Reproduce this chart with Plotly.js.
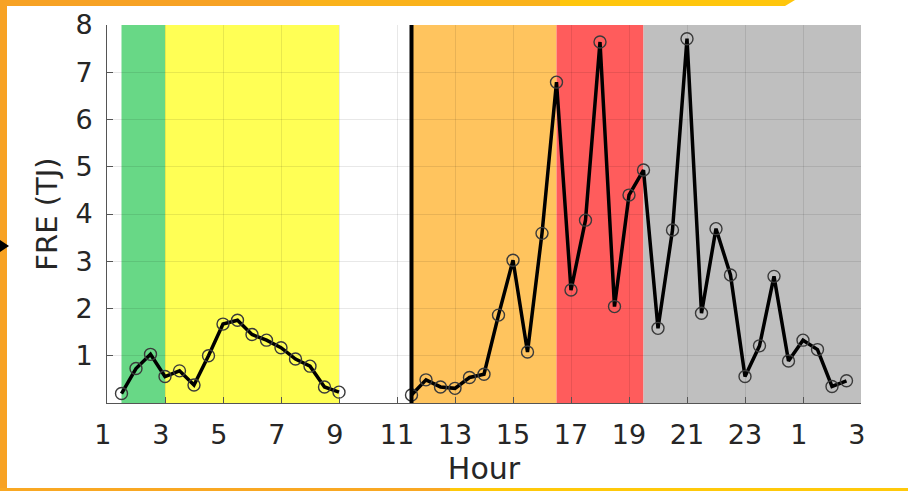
<!DOCTYPE html>
<html>
<head>
<meta charset="utf-8">
<script src="https://cdn.plot.ly/plotly-3.0.1.min.js"></script>
<style>
  html, body { margin: 0; padding: 0; background: #ffffff; }
  #chart { width: 908px; height: 491px; }
</style>
</head>
<body>
<div id="chart"></div>
<script>
// ---- Data ----
const hoursA = [1.5, 2, 2.5, 3, 3.5, 4, 4.5, 5, 5.5, 6, 6.5, 7, 7.5, 8, 8.5, 9];
const freA   = [0.20, 0.73, 1.03, 0.56, 0.68, 0.38, 1.00, 1.67, 1.75, 1.45, 1.33, 1.17, 0.93, 0.78, 0.34, 0.23];

const hoursB = [11.5, 12, 12.5, 13, 13.5, 14, 14.5, 15, 15.5, 16, 16.5, 17, 17.5, 18, 18.5, 19, 19.5,
                20, 20.5, 21, 21.5, 22, 22.5, 23, 23.5, 24, 24.5, 25, 25.5, 26, 26.5];
const freB   = [0.17, 0.49, 0.34, 0.31, 0.54, 0.61, 1.86, 3.02, 1.08, 3.59, 6.79, 2.39, 3.87, 7.64, 2.04, 4.40, 4.93,
                1.58, 3.66, 7.71, 1.90, 3.69, 2.71, 0.56, 1.21, 2.68, 0.89, 1.33, 1.13, 0.35, 0.47];

const bandStart = [1.5, 3, 11.5, 16.5, 19.5];
const bandEnd   = [3, 9, 16.5, 19.5, 27];
const bandColor = ['rgb(104,216,134)', 'rgb(255,255,85)', 'rgb(255,196,94)', 'rgb(255,92,92)', 'rgb(191,191,191)'];

const eventHour = 11.5;

const xTickVals = [1, 3, 5, 7, 9, 11, 13, 15, 17, 19, 21, 23, 25, 27];
const xTickText = ['1', '3', '5', '7', '9', '11', '13', '15', '17', '19', '21', '23', '1', '3'];
const yTickVals = [1, 2, 3, 4, 5, 6, 7, 8];

// ---- Layout geometry (pixels) ----
const W = 908, H = 491;
const L = 107, R = 861, T = 25, B = 403;
const px = v => (v - L) / (R - L);
const py = v => (B - v) / (B - T);

const textColor = '#262626';
const font = { family: 'DejaVu Sans, sans-serif', color: textColor };

const shapes = [];
for (let i = 0; i < bandStart.length; i++) {
  shapes.push({
    type: 'rect', layer: 'below', xref: 'x', yref: 'y',
    x0: bandStart[i], x1: bandEnd[i], y0: 0, y1: 8,
    fillcolor: bandColor[i], line: { width: 0 }
  });
}
shapes.push({
  type: 'line', layer: 'above', xref: 'x', yref: 'y',
  x0: eventHour, x1: eventHour, y0: 0, y1: 8,
  line: { color: '#000000', width: 4 }
});

// decorative frame
const frame = [
  { x0: 0, x1: 7, y0: 0, y1: 491, c: '#F7A224' },
  { x0: 0, x1: 300, y0: 0, y1: 6, c: '#F7A224' },
  { x0: 300, x1: 560, y0: 0, y1: 6, c: '#FAB21A' },
  { x0: 560, x1: 785, y0: 0, y1: 6, c: '#FFC60C' },
  { x0: 0, x1: 450, y0: 488, y1: 491, c: '#F9A823' },
  { x0: 450, x1: 908, y0: 488, y1: 491, c: '#FFC90A' }
];
frame.forEach(f => shapes.push({
  type: 'rect', layer: 'above', xref: 'paper', yref: 'paper',
  x0: px(f.x0), x1: px(f.x1), y0: py(f.y1), y1: py(f.y0),
  fillcolor: f.c, line: { width: 0 }
}));
shapes.push({
  type: 'path', layer: 'above', xref: 'paper', yref: 'paper',
  path: `M ${px(785)} ${py(0)} L ${px(795)} ${py(0)} L ${px(785)} ${py(6)} Z`,
  fillcolor: '#FFC60C', line: { width: 0 }
});
shapes.push({
  type: 'path', layer: 'above', xref: 'paper', yref: 'paper',
  path: `M ${px(0)} ${py(240)} L ${px(9)} ${py(246)} L ${px(0)} ${py(252)} Z`,
  fillcolor: '#000000', line: { width: 0 }
});

const lineStyle = { color: '#000000', width: 3.5 };
const markerStyle = { symbol: 'circle-open', size: 12, color: '#3a3a3a', line: { width: 1.4 } };

const traces = [
  { x: hoursA, y: freA, type: 'scatter', mode: 'lines+markers', line: lineStyle, marker: markerStyle, hoverinfo: 'x+y' },
  { x: hoursB, y: freB, type: 'scatter', mode: 'lines+markers', line: lineStyle, marker: markerStyle, hoverinfo: 'x+y' }
];

const layout = {
  width: W, height: H,
  margin: { l: L, r: W - R, t: T, b: H - B, pad: 0 },
  paper_bgcolor: '#ffffff',
  plot_bgcolor: '#ffffff',
  showlegend: false,
  font: font,
  xaxis: {
    range: [1, 27],
    tickvals: xTickVals,
    ticktext: xTickText.map(t => t.length === 1 ? t + '\u00A0' : t),
    tickfont: { family: font.family, size: 27, color: textColor },
    ticks: 'inside', ticklen: 6, tickcolor: '#555555', tickwidth: 1,
    showline: true, linecolor: '#555555', linewidth: 1,
    showgrid: true, gridcolor: 'rgba(0,0,0,0.09)', gridwidth: 1,
    zeroline: false,
    ticklabelstandoff: 8,
    title: { text: 'Hour', font: { family: font.family, size: 30, color: textColor }, standoff: 8 }
  },
  yaxis: {
    range: [0, 8],
    tickvals: yTickVals,
    tickfont: { family: font.family, size: 27, color: textColor },
    ticks: 'inside', ticklen: 6, tickcolor: '#555555', tickwidth: 1,
    showline: true, linecolor: '#555555', linewidth: 1,
    showgrid: true, gridcolor: 'rgba(0,0,0,0.09)', gridwidth: 1,
    zeroline: false,
    ticklabelstandoff: 8,
    title: { text: 'FRE (TJ)', font: { family: font.family, size: 29, color: textColor }, standoff: 9 }
  },
  shapes: shapes
};

Plotly.newPlot('chart', traces, layout, { displayModeBar: false, staticPlot: true });
</script>
</body>
</html>
